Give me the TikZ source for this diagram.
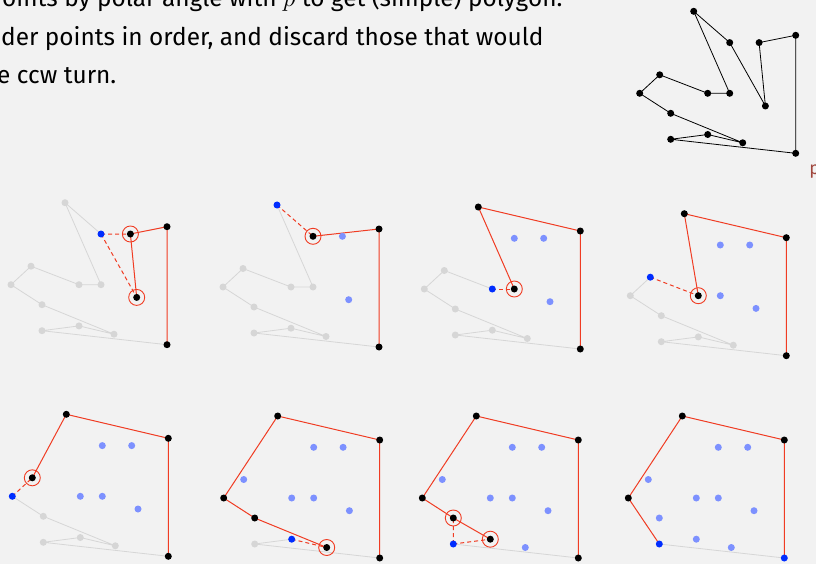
\documentclass[tikz,border=0pt]{standalone}
\usepackage{fontspec}
\setsansfont{Fira Sans}
\usetikzlibrary{arrows.meta}

\definecolor{slidebg}{HTML}{F2F2F2}
\definecolor{hullred}{RGB}{240,60,35}
\definecolor{candblue}{RGB}{0,45,255}
\definecolor{doneblue}{RGB}{125,145,255}
\definecolor{polygray}{RGB}{214,214,214}
\definecolor{labelbrown}{RGB}{160,70,60}

% 点集 (相对于 p 的坐标)
\newcommand{\pset}{%
  \coordinate (p) at (0,0);
  \coordinate (a) at (-102,-142);
  \coordinate (b) at (-66,-110.7);
  \coordinate (c) at (-36.6,-110.7);
  \coordinate (d) at (0,-118);
  \coordinate (e) at (-30.3,-47.3);
  \coordinate (f) at (-136,-78.5);
  \coordinate (g) at (-156,-60);
  \coordinate (h) at (-88,-60);
  \coordinate (i) at (-66,-60);
  \coordinate (j) at (-125,-40);
  \coordinate (k) at (-125,-14);
  \coordinate (l) at (-88,-18.8);
  \coordinate (m) at (-53,-10.5);
}

\tikzset{
  txt/.style={font=\sffamily\fontsize{24.4}{29}\selectfont, inner sep=0pt, anchor=base west},
  polyline/.style={draw=polygray, line width=0.8pt},
  hullline/.style={draw=hullred, line width=1pt},
  testline/.style={draw=hullred, line width=1pt, dash pattern=on 4pt off 3pt},
  ring/.style={draw=hullred, line width=0.9pt},
  graypt/.style={fill=polygray},
  donept/.style={fill=doneblue},
  candpt/.style={fill=candblue},
}

\begin{document}
\begin{tikzpicture}[x=1pt, y=-1pt]
  \useasboundingbox (0,0) rectangle (816,564);
  \fill[slidebg] (0,0) rectangle (816,564);

  % === 文字 ===
  \node[txt] (t1) at (2,7) {oints by polar angle with $p$ to get (simple) polygon.};
  \node[txt] (t2) at (1,46) {der points in order, and discard those that would};
  \node[txt] (t3) at (-3,84) {e ccw turn.};

  % === 右上：简单多边形 ===
  \begin{scope}[shift={(795.7,153.3)}]
    \pset
    \draw[line width=0.8pt] (p) -- (d) -- (c) -- (e) -- (b) -- (a) -- (i) -- (h) -- (f) -- (g) -- (j) -- (m) -- (l) -- (k) -- cycle;
    \foreach \q in {p,a,b,c,d,e,f,g,h,i,j,k,l,m} \fill (\q) circle (3.5pt);
    \node[font=\sffamily\fontsize{18}{20}\selectfont, text=labelbrown, inner sep=0pt, anchor=base west] (plabel) at (13.5,21) {p};
  \end{scope}

  % === 第一行 ===
  \begin{scope}[shift={(167,344.7)}]
    \pset
    \draw[polyline] (b) -- (a) -- (i) -- (h) -- (f) -- (g) -- (j) -- (m) -- (l) -- (k) -- (p);
    \draw[hullline] (p) -- (d) -- (c) -- (e);
    \draw[testline] (b) -- (c) (b) -- (e);
    \foreach \q in {a,f,g,h,i,j,k,l,m} \fill[graypt] (\q) circle (3.5pt);
    \foreach \q in {p,d,c,e} \fill (\q) circle (3.5pt);
    \fill[candpt] (b) circle (3.5pt);
    \draw[ring] (c) circle (8pt) (e) circle (8pt);
  \end{scope}

  \begin{scope}[shift={(379,347)}]
    \pset
    \draw[polyline] (a) -- (i) -- (h) -- (f) -- (g) -- (j) -- (m) -- (l) -- (k) -- (p);
    \draw[hullline] (p) -- (d) -- (b);
    \draw[testline] (a) -- (b);
    \foreach \q in {f,g,h,i,j,k,l,m} \fill[graypt] (\q) circle (3.5pt);
    \foreach \q in {c,e} \fill[donept] (\q) circle (3.5pt);
    \foreach \q in {p,d,b} \fill (\q) circle (3.5pt);
    \fill[candpt] (a) circle (3.5pt);
    \draw[ring] (b) circle (8pt);
  \end{scope}

  \begin{scope}[shift={(580.3,349)}]
    \pset
    \draw[polyline] (h) -- (f) -- (g) -- (j) -- (m) -- (l) -- (k) -- (p);
    \draw[hullline] (p) -- (d) -- (a) -- (i);
    \draw[testline] (h) -- (i);
    \foreach \q in {f,g,j,k,l,m} \fill[graypt] (\q) circle (3.5pt);
    \foreach \q in {b,c,e} \fill[donept] (\q) circle (3.5pt);
    \foreach \q in {p,d,a,i} \fill (\q) circle (3.5pt);
    \fill[candpt] (h) circle (3.5pt);
    \draw[ring] (i) circle (8pt);
  \end{scope}

  \begin{scope}[shift={(786.3,355.7)}]
    \pset
    \draw[polyline] (f) -- (g) -- (j) -- (m) -- (l) -- (k) -- (p);
    \draw[hullline] (p) -- (d) -- (a) -- (h);
    \draw[testline] (f) -- (h);
    \foreach \q in {g,j,k,l,m} \fill[graypt] (\q) circle (3.5pt);
    \foreach \q in {b,c,e,i} \fill[donept] (\q) circle (3.5pt);
    \foreach \q in {p,d,a,h} \fill (\q) circle (3.5pt);
    \fill[candpt] (f) circle (3.5pt);
    \draw[ring] (h) circle (8pt);
  \end{scope}

  % === 第二行 ===
  \begin{scope}[shift={(168.3,556.3)}]
    \pset
    \draw[polyline] (g) -- (j) -- (m) -- (l) -- (k) -- (p);
    \draw[hullline] (p) -- (d) -- (a) -- (f);
    \draw[testline] (g) -- (f);
    \foreach \q in {j,k,l,m} \fill[graypt] (\q) circle (3.5pt);
    \foreach \q in {b,c,e,h,i} \fill[donept] (\q) circle (3.5pt);
    \foreach \q in {p,d,a,f} \fill (\q) circle (3.5pt);
    \fill[candpt] (g) circle (3.5pt);
    \draw[ring] (f) circle (8pt);
  \end{scope}

  \begin{scope}[shift={(379.7,558)}]
    \pset
    \draw[polyline] (l) -- (k) -- (p);
    \draw[hullline] (p) -- (d) -- (a) -- (g) -- (j) -- (m);
    \draw[testline] (l) -- (m);
    \fill[graypt] (k) circle (3.5pt);
    \foreach \q in {b,c,e,f,h,i} \fill[donept] (\q) circle (3.5pt);
    \foreach \q in {p,d,a,g,j,m} \fill (\q) circle (3.5pt);
    \fill[candpt] (l) circle (3.5pt);
    \draw[ring] (m) circle (8pt);
  \end{scope}

  \begin{scope}[shift={(578.3,558)}]
    \pset
    \draw[polyline] (k) -- (p);
    \draw[hullline] (p) -- (d) -- (a) -- (g) -- (j) -- (l);
    \draw[testline] (k) -- (j) (k) -- (l);
    \foreach \q in {b,c,e,f,h,i,m} \fill[donept] (\q) circle (3.5pt);
    \foreach \q in {p,d,a,g,j,l} \fill (\q) circle (3.5pt);
    \fill[candpt] (k) circle (3.5pt);
    \draw[ring] (j) circle (8pt) (l) circle (8pt);
  \end{scope}

  \begin{scope}[shift={(784.3,558)}]
    \pset
    \draw[polyline] (k) -- (p);
    \draw[hullline] (p) -- (d) -- (a) -- (g) -- (k);
    \foreach \q in {b,c,e,f,h,i,j,l,m} \fill[donept] (\q) circle (3.5pt);
    \foreach \q in {d,a,g} \fill (\q) circle (3.5pt);
    \foreach \q in {k,p} \fill[candpt] (\q) circle (3.5pt);
  \end{scope}
\end{tikzpicture}
\end{document}
